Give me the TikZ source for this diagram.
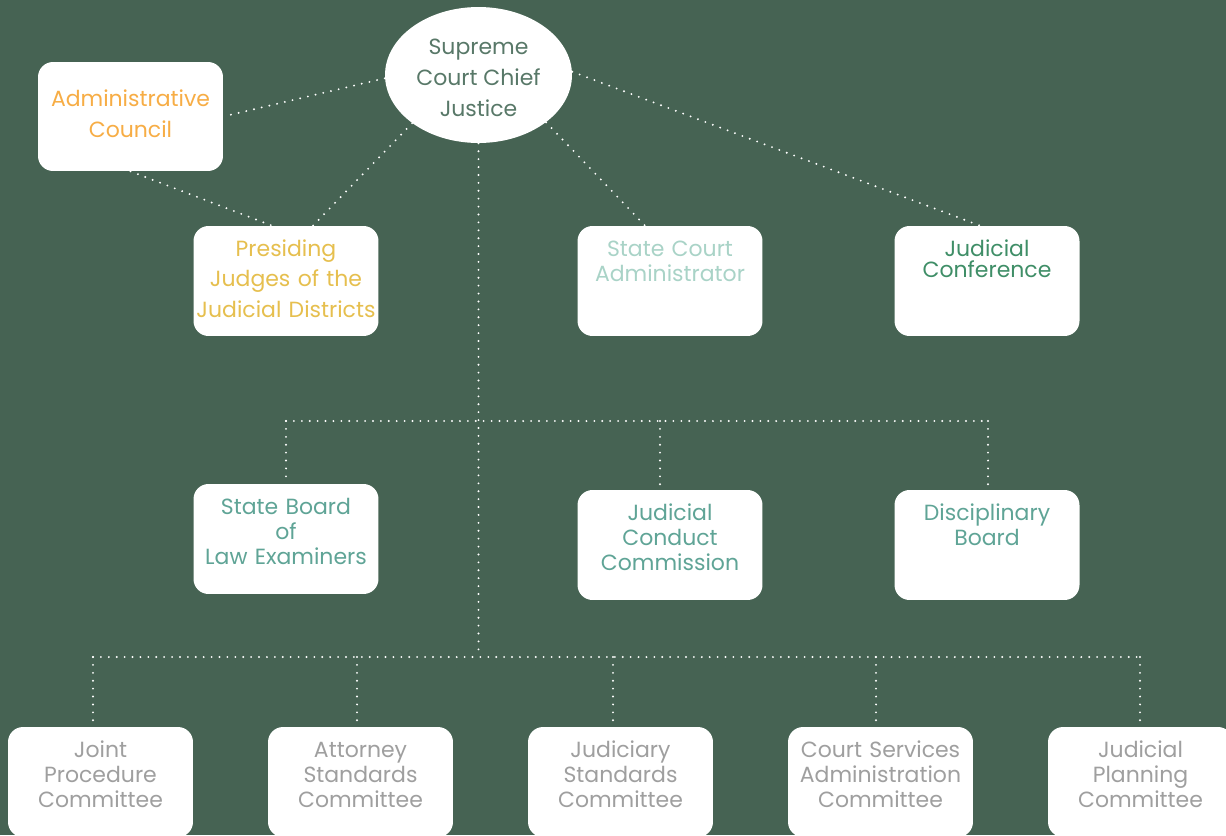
\documentclass[tikz,border=0pt]{standalone}
\usepackage{fontspec}
\setmainfont{Poppins}
\usetikzlibrary{shapes.geometric}

\definecolor{bggreen}{HTML}{466353}
\definecolor{chieftext}{HTML}{587868}
\definecolor{adminorange}{HTML}{F7AD45}
\definecolor{judgegold}{HTML}{E6BF4E}
\definecolor{paleteal}{HTML}{A9D3C7}
\definecolor{confgreen}{HTML}{3F8E67}
\definecolor{boardteal}{HTML}{5FA496}
\definecolor{cmtgray}{HTML}{9F9F9F}

\newcommand{\orgsize}[1]{\fontsize{12.5}{#1}\selectfont}

\tikzset{
  orgbox/.style={fill=white, rounded corners=0.3cm, text width=3.7cm, align=center,
    inner sep=0pt, text height=0.6cm, text depth=1.6cm},
  chief/.style={ellipse, fill=white, minimum width=3.74cm, minimum height=2.72cm,
    inner sep=0pt, align=center, text=chieftext},
  dots/.style={white, line width=1.2pt, line cap=round, dash pattern=on 0pt off 4.5pt},
}

\begin{document}
\begin{tikzpicture}[x=0.02cm, y=-0.02cm]
% Background
\fill[bggreen] (0,0) rectangle (1226,835);
\useasboundingbox (0,0) rectangle (1226,835);
\clip (0,0) rectangle (1226,835);

% Top level
\node[chief, font=\orgsize{17.6}] (cj) at (478.5,75) {\rule{0pt}{0.43cm}Supreme\\Court Chief\\Justice};
\node[orgbox, text=adminorange, font=\orgsize{17.6}, text height=0.89cm, text depth=1.29cm]
  (admin) at (130.5,116.5) {Administrative\\Council};

% Second row
\node[orgbox, text=judgegold, font=\orgsize{17.4}] (pj) at (286,281) {Presiding\\Judges of the\\Judicial~Districts};
\node[orgbox, text=paleteal, font=\orgsize{14.7}] (sca) at (670,281) {State Court\\Administrator};
\node[orgbox, text=confgreen, font=\orgsize{12.2}] (jc) at (987,281) {Judicial\\Conference};

% Third row
\node[orgbox, text=boardteal, font=\orgsize{14.5}] (sb) at (286,539) {State Board\\of\\Law Examiners};
\node[orgbox, text=boardteal, font=\orgsize{14.5}] (jcc) at (670,545) {Judicial\\Conduct\\Commission};
\node[orgbox, text=boardteal, font=\orgsize{14.7}] (db) at (987,545) {Disciplinary\\Board};

% Committees
\node[orgbox, text=cmtgray, font=\orgsize{14.5}] (jpc) at (100.5,782) {Joint\\Procedure\\Committee};
\node[orgbox, text=cmtgray, font=\orgsize{14.5}] (asc) at (360.5,782) {Attorney\\Standards\\Committee};
\node[orgbox, text=cmtgray, font=\orgsize{14.5}] (jsc) at (620.5,782) {Judiciary\\Standards\\Committee};
\node[orgbox, text=cmtgray, font=\orgsize{14.5}] (csa) at (880.5,782) {Court~Services\\Administration\\Committee};
\node[orgbox, text=cmtgray, font=\orgsize{14.5}] (jpl) at (1140.5,782) {Judicial\\Planning\\Committee};

% Links from the chief justice
\draw[dots] (cj.182) -- (admin.east);
\draw[dots] (admin.south) -- ([xshift=-0.28cm]pj.north);
\draw[dots] (cj.216) -- ([xshift=0.54cm]pj.north);
\draw[dots] (cj.325) -- ([xshift=-0.5cm]sca.north);
\draw[dots] (cj.2) -- ([xshift=-0.14cm]jc.north);

% Middle bus
\coordinate (midL) at (286,421);
\coordinate (midC) at (660,421);
\coordinate (midR) at (988,421);
\draw[dots] (midL) -- (midR);
\draw[dots] (midL) -- (sb.north);
\draw[dots] (midC) -- (midC |- jcc.north);
\draw[dots] (midR) -- (midR |- db.north);

% Bottom bus
\coordinate (botL) at (93,657);
\coordinate (botR) at (1140,657);
\draw[dots] (cj.south) -- (cj.south |- botL);
\draw[dots] (botL) -- (botR);
\foreach \x/\n in {93/jpc, 357/asc, 613/jsc, 876/csa, 1140/jpl} {
  \coordinate (tap\n) at (\x,657);
  \draw[dots] (tap\n) -- (tap\n |- \n.north);
}

\end{tikzpicture}
\end{document}
